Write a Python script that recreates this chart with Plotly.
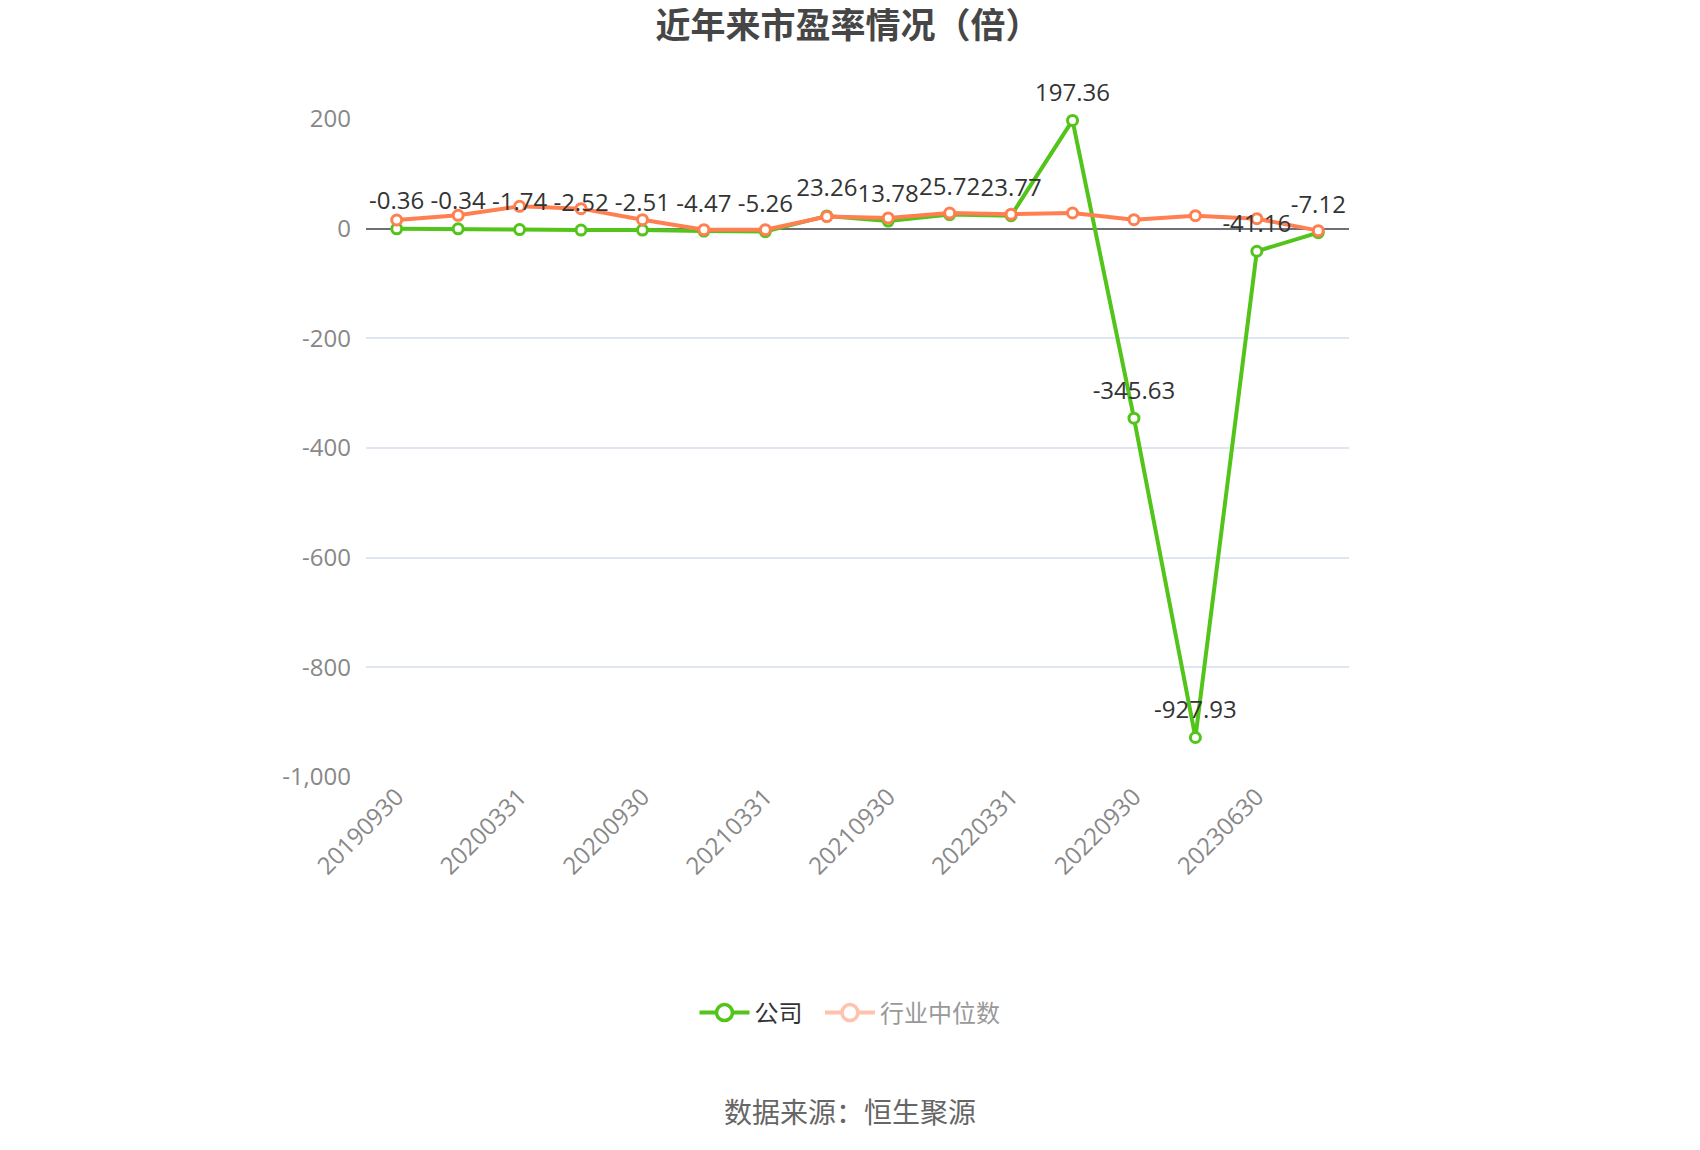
import plotly.graph_objects as go

## données
dates = ["20190930", "20191231", "20200331", "20200630", "20200930", "20201231",
         "20210331", "20210630", "20210930", "20211231", "20220331", "20220630",
         "20220930", "20221231", "20230630", "20230930"]
company_pe = [-0.36, -0.34, -1.74, -2.52, -2.51, -4.47, -5.26, 23.26, 13.78,
              25.72, 23.77, 197.36, -345.63, -927.93, -41.16, -7.12]
industry_pe = [15.8, 24.3, 40.8, 36.5, 16.4, -1.8, -1.8, 22.0, 19.5,
               28.5, 26.5, 28.6, 16.4, 23.7, 18.2, -3.6]
label_dates = dates[::2]
ytick_vals = [-1000, -800, -600, -400, -200, 0, 200]
ytick_text = [f"{v:,}" for v in ytick_vals]

FONT = "Open Sans, Noto Sans CJK SC, sans-serif"
GREEN = "#52C41A"
ORANGE = "#FF7F50"
W, H = 1700, 1150
OFF = 8  # marge du body de la page

fig = go.Figure()

# série société
fig.add_trace(go.Scatter(
    x=dates, y=company_pe, name="公司", mode="lines+markers", showlegend=False,
    line=dict(color=GREEN, width=4),
    marker=dict(symbol="circle", size=10, color="white", line=dict(color=GREEN, width=3)),
    cliponaxis=False,
))

# médiane du secteur
fig.add_trace(go.Scatter(
    x=dates, y=industry_pe, name="行业中位数", mode="lines+markers", showlegend=False,
    line=dict(color=ORANGE, width=4),
    marker=dict(symbol="circle", size=10, color="white", line=dict(color=ORANGE, width=3)),
    cliponaxis=False,
))

# étiquettes de la série société (marqueur invisible pour décaler le texte)
fig.add_trace(go.Scatter(
    x=dates, y=company_pe, mode="markers+text", showlegend=False, hoverinfo="skip",
    text=[f"{v:.2f}" for v in company_pe], textposition="top center",
    textfont=dict(size=24, color="#333333", family=FONT),
    marker=dict(size=20, color="rgba(0,0,0,0)"),
    cliponaxis=False,
))

# entrées de légende
fig.add_trace(go.Scatter(
    x=[None], y=[None], name="公司\u00a0\u00a0", mode="lines+markers",
    line=dict(color=GREEN, width=4),
    marker=dict(symbol="circle", size=16, color="white", line=dict(color=GREEN, width=3.5)),
))
fig.add_trace(go.Scatter(
    x=[None], y=[None], name="<span style='color:#999999'>行业中位数</span>",
    mode="lines+markers",
    line=dict(color="#FFC2AC", width=4),
    marker=dict(symbol="circle", size=16, color="white", line=dict(color="#FFC2AC", width=3.5)),
))

y0_pos = (0 - ytick_vals[0]) / (ytick_vals[-1] - ytick_vals[0])

fig.update_layout(
    width=W, height=H,
    paper_bgcolor="white", plot_bgcolor="white",
    margin=dict(l=366 - OFF, r=W + OFF - 1349, t=119 - OFF, b=H + OFF - 777),
    font=dict(family=FONT, size=24, color="#333333"),
    title=dict(text="<b>近年来市盈率情况（倍）</b>", x=840 / W, xref="container",
               xanchor="center", y=1 - (26 - OFF) / H, yref="container", yanchor="middle",
               font=dict(size=35, color="#464646", family=FONT)),
    xaxis=dict(type="category", categoryorder="array", categoryarray=dates,
               range=[-0.5, len(dates) - 0.5], tickvals=label_dates, tickangle=-45,
               tickfont=dict(size=24, color="#888888"), showgrid=False, showline=False,
               ticks="", zeroline=False),
    xaxis2=dict(type="category", categoryorder="array", categoryarray=dates,
                range=[-0.5, len(dates) - 0.5], overlaying="x", anchor="free",
                position=y0_pos, tickvals=label_dates, ticks="outside", ticklen=8,
                tickwidth=1.5, tickcolor="#6E7079", showticklabels=False,
                showgrid=False, showline=False, zeroline=False),
    yaxis=dict(range=[ytick_vals[0], ytick_vals[-1]], tickvals=ytick_vals, ticktext=ytick_text,
               tickfont=dict(size=24, color="#888888"), gridcolor="#E0E6F1", gridwidth=1.5,
               zeroline=True, zerolinecolor="#6E7079", zerolinewidth=2,
               showline=False, ticks="", ticklabelstandoff=14),
    legend=dict(orientation="h", xref="container", yref="container", x=(850 - OFF) / W,
                xanchor="center", y=1 - (1013 - OFF) / H, yanchor="middle",
                font=dict(size=24, color="#333333"), itemwidth=50, itemsizing="trace"),
    showlegend=True,
)

fig.add_annotation(text="数据来源：恒生聚源", xref="paper", yref="paper",
                   x=(850 - 366) / 983, y=(777 - 1112) / 658, xanchor="center", yanchor="middle",
                   showarrow=False, font=dict(size=28, color="#666666", family=FONT))

fig.write_html("out.html")
